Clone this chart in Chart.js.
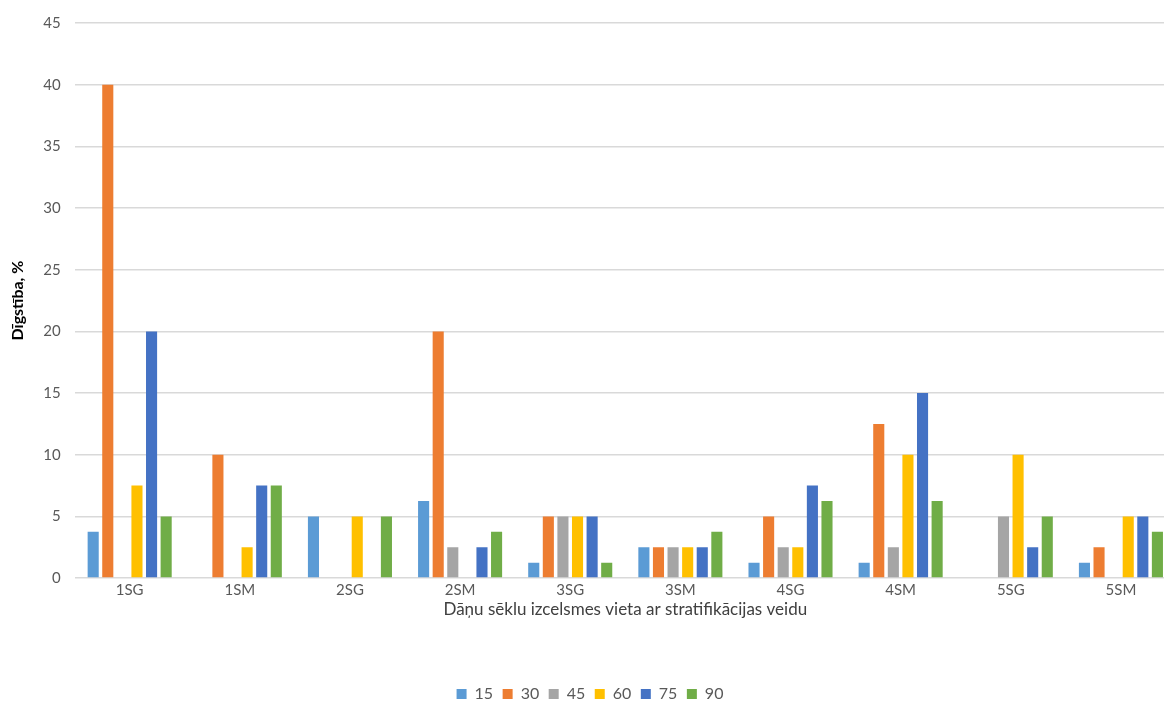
<!DOCTYPE html>
<html>
<head>
<meta charset="utf-8">
<script src="https://cdn.jsdelivr.net/npm/chart.js@4/dist/chart.umd.min.js"></script>
<style>
  html, body { margin: 0; padding: 0; background: #fff; overflow: hidden; }
  #wrap { width: 1222px; height: 712px; }
</style>
</head>
<body>
<div id="wrap"><canvas id="germChart"></canvas></div>
<script>
const categories = ['1SG', '1SM', '2SG', '2SM', '3SG', '3SM', '4SG', '4SM', '5SG', '5SM'];
const seriesNames = ['15', '30', '45', '60', '75', '90'];

const s15 = [3.75, 0, 5, 6.25, 1.25, 2.5, 1.25, 1.25, 0, 1.25];
const s30 = [40, 10, 0, 20, 5, 2.5, 5, 12.5, 0, 2.5];
const s45 = [0, 0, 0, 2.5, 5, 2.5, 2.5, 2.5, 5, 0];
const s60 = [7.5, 2.5, 5, 0, 5, 2.5, 2.5, 10, 10, 5];
const s75 = [20, 7.5, 0, 2.5, 5, 2.5, 7.5, 15, 2.5, 5];
const s90 = [5, 7.5, 5, 3.75, 1.25, 3.75, 6.25, 6.25, 5, 3.75];

const seriesValues = [s15, s30, s45, s60, s75, s90];
const colors = ['#5B9BD5', '#ED7D31', '#A5A5A5', '#FFC000', '#4472C4', '#70AD47'];

const font = "Lato, 'Open Sans', sans-serif";

new Chart(document.getElementById('germChart'), {
    type: 'bar',
    data: {
        labels: categories,
        datasets: seriesNames.map((name, i) => ({
            label: name,
            data: seriesValues[i],
            backgroundColor: colors[i],
            borderWidth: 0,
            categoryPercentage: 0.795,
            barPercentage: 0.76
        }))
    },
    options: {
        responsive: true,
        maintainAspectRatio: false,
        animation: false,
        layout: { padding: { top: 12, left: 4, right: 46, bottom: 0 } },
        plugins: {
            legend: {
                position: 'bottom',
                labels: {
                    boxWidth: 10,
                    boxHeight: 10,
                    padding: 9.5,
                    color: '#595959',
                    font: { family: font, size: 16 }
                }
            },
            tooltip: { enabled: false }
        },
        scales: {
            x: {
                grid: { display: false, drawTicks: false },
                border: { display: false },
                ticks: { color: '#595959', padding: 3, font: { family: font, size: 15 } },
                title: {
                    display: true,
                    text: 'Dāņu sēklu izcelsmes vieta ar stratifikācijas veidu',
                    color: '#404040',
                    font: { family: font, size: 17 },
                    padding: { top: -3, bottom: 57 }
                }
            },
            y: {
                min: 0,
                max: 45,
                ticks: { stepSize: 5, color: '#595959', padding: 14, font: { family: font, size: 15 } },
                grid: { color: '#d9d9d9', lineWidth: 1.5, drawTicks: false },
                border: { display: false },
                title: {
                    display: true,
                    text: 'Dīgstība, %',
                    color: '#000000',
                    font: { family: font, size: 16, weight: 'bold' },
                    padding: { bottom: 2 }
                }
            }
        }
    }
});
</script>
</body>
</html>
